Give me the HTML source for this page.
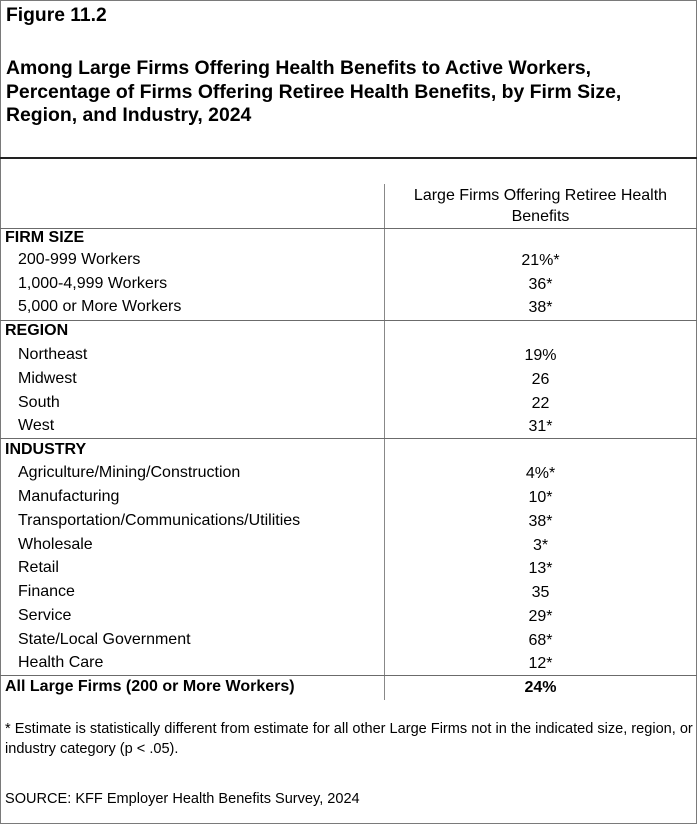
<!DOCTYPE html>
<html><head><meta charset="utf-8"><style>
body{margin:0;background:#fff;}
#c{position:relative;width:697px;height:824px;overflow:hidden;font-family:"Liberation Sans",Arial,sans-serif;color:#000;}
.t{position:absolute;white-space:nowrap;font-size:16px;line-height:18px;}
.b{font-weight:bold;}
.v2{position:absolute;left:384px;width:313px;text-align:center;}
.h{position:absolute;left:0;width:697px;height:1px;background:#6b6b6b;}
</style></head><body><div id="c">
<div style="position:absolute;left:0;top:0;width:695px;height:822px;border:1px solid #7a7a7a;"></div>
<div class="t b" style="left:6px;top:5px;font-size:19.3px;line-height:22px;">Figure 11.2</div>
<div class="t b" style="left:6px;top:57px;font-size:19.4px;line-height:23.5px;">Among Large Firms Offering Health Benefits to Active Workers,<br>Percentage of Firms Offering Retiree Health Benefits, by Firm Size,<br>Region, and Industry, 2024</div>
<div class="h" style="top:157px;height:2px;background:#222;"></div>
<div style="position:absolute;left:384px;top:184px;width:1px;height:516px;background:#888;"></div>
<div class="v2 t" style="top:185px;line-height:21px;font-size:16px;">Large Firms Offering Retiree Health<br>Benefits</div>
<div class="h" style="top:228px;"></div>
<div class="h" style="top:320px;"></div>
<div class="h" style="top:438px;"></div>
<div class="h" style="top:675px;"></div>

<div class="t b" style="left:5px;top:229px;">FIRM SIZE</div>
<div class="t" style="left:18px;top:251px;">200-999 Workers</div><div class="v2 t" style="top:252px;">21%*</div>
<div class="t" style="left:18px;top:275px;">1,000-4,999 Workers</div><div class="v2 t" style="top:276px;">36*</div>
<div class="t" style="left:18px;top:298px;">5,000 or More Workers</div><div class="v2 t" style="top:299px;">38*</div>

<div class="t b" style="left:5px;top:322px;">REGION</div>
<div class="t" style="left:18px;top:346px;">Northeast</div><div class="v2 t" style="top:347px;">19%</div>
<div class="t" style="left:18px;top:370px;">Midwest</div><div class="v2 t" style="top:371px;">26</div>
<div class="t" style="left:18px;top:394px;">South</div><div class="v2 t" style="top:395px;">22</div>
<div class="t" style="left:18px;top:417px;">West</div><div class="v2 t" style="top:418px;">31*</div>

<div class="t b" style="left:5px;top:441px;">INDUSTRY</div>
<div class="t" style="left:18px;top:464px;">Agriculture/Mining/Construction</div><div class="v2 t" style="top:465px;">4%*</div>
<div class="t" style="left:18px;top:488px;">Manufacturing</div><div class="v2 t" style="top:489px;">10*</div>
<div class="t" style="left:18px;top:512px;">Transportation/Communications/Utilities</div><div class="v2 t" style="top:513px;">38*</div>
<div class="t" style="left:18px;top:536px;">Wholesale</div><div class="v2 t" style="top:537px;">3*</div>
<div class="t" style="left:18px;top:559px;">Retail</div><div class="v2 t" style="top:560px;">13*</div>
<div class="t" style="left:18px;top:583px;">Finance</div><div class="v2 t" style="top:584px;">35</div>
<div class="t" style="left:18px;top:607px;">Service</div><div class="v2 t" style="top:608px;">29*</div>
<div class="t" style="left:18px;top:631px;">State/Local Government</div><div class="v2 t" style="top:632px;">68*</div>
<div class="t" style="left:18px;top:654px;">Health Care</div><div class="v2 t" style="top:655px;">12*</div>

<div class="t b" style="left:5px;top:678px;">All Large Firms (200 or More Workers)</div><div class="v2 t b" style="top:679px;">24%</div>

<div class="t" style="left:5px;top:719px;font-size:14.55px;line-height:20px;"> * Estimate is statistically different from estimate for all other Large Firms not in the indicated size, region, or<br>industry category (p &lt; .05).</div>
<div class="t" style="left:5px;top:790px;font-size:14.55px;">SOURCE: KFF Employer Health Benefits Survey, 2024</div>
</div></body></html>
